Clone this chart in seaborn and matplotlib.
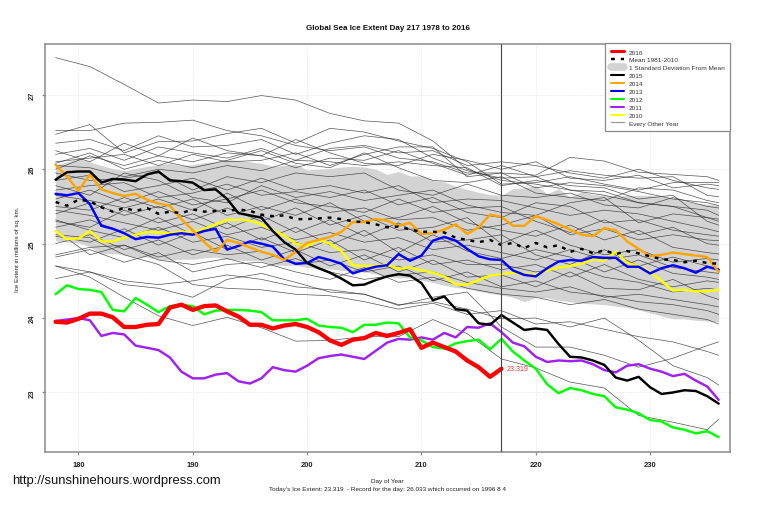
import matplotlib
matplotlib.use("Agg")
import matplotlib.pyplot as plt
from matplotlib.lines import Line2D
import numpy as np
import pandas as pd
import seaborn as sns

days = list(range(178, 237))
days_2016 = list(range(178, 218))
grid = [178,181,184,187,190,193,196,199,202,205,208,211,214,217,220,223,226,229,232,235,236]
x_ticks = [180,190,200,210,220,230]
y_ticks = [23,24,25,26,27]

v2016 = [23.95,23.94,23.99,24.06,24.06,24.01,23.88,23.88,23.91,23.92,24.14,24.18,24.11,24.16,24.17,24.09,24.02,23.91,23.91,23.86,
         23.90,23.92,23.88,23.81,23.70,23.64,23.71,23.73,23.80,23.76,23.80,23.85,23.60,23.67,23.61,23.55,23.43,23.34,23.21,23.319]
v2015 = [25.86,25.96,25.97,25.97,25.82,25.87,25.86,25.84,25.93,25.97,25.85,25.84,25.82,25.72,25.73,25.60,25.41,25.38,25.35,25.17,
         25.02,24.92,24.74,24.67,24.61,24.53,24.44,24.45,24.51,24.56,24.59,24.57,24.47,24.24,24.29,24.12,24.10,23.93,23.91,24.04,
         23.94,23.84,23.86,23.84,23.65,23.48,23.47,23.43,23.37,23.20,23.16,23.21,23.07,22.98,23.00,23.03,23.02,22.95,22.85]
v2014 = [26.06,25.90,25.71,25.93,25.73,25.68,25.64,25.67,25.59,25.54,25.51,25.33,25.18,25.02,24.89,25.05,25.01,24.95,24.89,24.85,
         24.78,24.89,25.01,25.05,25.09,25.16,25.29,25.29,25.33,25.31,25.24,25.28,25.13,25.14,25.19,25.26,25.13,25.22,25.39,25.36,
         25.24,25.24,25.37,25.32,25.26,25.19,25.12,25.10,25.21,25.18,25.03,24.93,24.83,24.85,24.88,24.86,24.84,24.82,24.62]
v2013 = [25.67,25.65,25.68,25.53,25.24,25.20,25.14,25.06,25.09,25.08,25.12,25.14,25.12,25.17,25.20,24.92,24.97,25.03,25.00,24.96,
         24.79,24.73,24.74,24.82,24.78,24.73,24.60,24.65,24.69,24.71,24.86,24.77,24.84,25.04,25.09,25.04,24.93,24.83,24.79,24.78,
         24.64,24.58,24.56,24.67,24.76,24.78,24.77,24.82,24.81,24.81,24.69,24.69,24.60,24.67,24.71,24.67,24.61,24.69,24.65]
v2012 = [24.32,24.44,24.39,24.38,24.35,24.11,24.09,24.27,24.18,24.08,24.16,24.18,24.16,24.05,24.10,24.11,24.11,24.10,24.08,23.97,
         23.97,23.97,23.99,23.90,23.88,23.87,23.81,23.91,23.91,23.94,23.93,23.74,23.70,23.61,23.59,23.66,23.69,23.71,23.58,23.72,
         23.55,23.43,23.32,23.11,22.99,23.06,23.03,22.98,22.95,22.80,22.77,22.72,22.63,22.61,22.53,22.50,22.45,22.48,22.40]
v2011 = [23.96,23.98,24.00,23.97,23.76,23.80,23.78,23.63,23.60,23.57,23.47,23.28,23.19,23.19,23.24,23.26,23.15,23.12,23.19,23.34,
         23.30,23.28,23.36,23.46,23.49,23.51,23.48,23.45,23.56,23.67,23.72,23.71,23.74,23.71,23.80,23.74,23.88,23.87,23.93,23.81,
         23.67,23.62,23.48,23.41,23.43,23.42,23.43,23.38,23.30,23.27,23.36,23.38,23.32,23.28,23.22,23.25,23.16,23.08,22.90]
v2010 = [25.17,25.06,25.07,25.17,25.03,25.03,25.08,25.12,25.16,25.15,25.14,25.16,25.15,25.20,25.26,25.32,25.32,25.31,25.26,25.18,
         25.11,25.00,24.97,25.05,25.00,24.90,24.71,24.70,24.70,24.72,24.66,24.68,24.64,24.61,24.56,24.45,24.45,24.51,24.57,24.59,
         24.61,24.59,24.58,24.64,24.68,24.70,24.73,24.79,24.77,24.89,24.74,24.70,24.62,24.50,24.37,24.38,24.36,24.36,24.38]
v_mean = [25.56,25.51,25.59,25.57,25.49,25.43,25.48,25.44,25.48,25.40,25.43,25.41,25.46,25.43,25.44,25.44,25.46,25.44,25.39,25.37,
          25.38,25.33,25.33,25.34,25.35,25.33,25.30,25.29,25.26,25.22,25.23,25.19,25.16,25.16,25.15,25.08,25.05,25.02,25.05,24.98,
          25.01,24.94,25.01,24.95,24.98,24.89,24.93,24.87,24.91,24.86,24.90,24.87,24.83,24.79,24.78,24.75,24.77,24.74,24.73]
band_hi = [26.06,26.10,26.14,26.10,26.05,26.01,25.98,26.01,26.04,26.06,26.08,26.05,26.06,26.09,26.10,26.13,26.12,26.10,26.08,26.04,
           26.05,26.07,25.99,26.00,26.01,26.03,26.04,26.03,26.00,25.93,25.97,25.91,25.91,25.85,25.83,25.77,25.73,25.69,25.66,25.65,
           25.74,25.75,25.78,25.67,25.74,25.63,25.70,25.66,25.65,25.63,25.65,25.65,25.65,25.63,25.61,25.57,25.54,25.53,25.52]
band_lo = [25.04,25.02,25.01,24.96,24.86,24.87,24.85,24.82,24.82,24.79,24.78,24.79,24.79,24.81,24.82,24.79,24.78,24.77,24.77,24.71,
           24.71,24.71,24.68,24.67,24.66,24.64,24.63,24.62,24.59,24.56,24.54,24.54,24.51,24.48,24.44,24.41,24.40,24.36,24.33,24.31,
           24.28,24.22,24.28,24.27,24.24,24.22,24.20,24.19,24.18,24.16,24.14,24.11,24.07,24.03,23.99,23.99,23.97,23.96,23.95]

thin_1 = [27.50,27.38,27.14,26.89,26.93,26.91,26.99,26.93,26.75,26.65,26.62,26.38,26.00,25.85,25.80,25.72,25.65,25.55,25.50,25.35,25.30]
thin_2 = [26.52,26.52,26.62,26.63,26.66,26.52,26.45,26.32,26.25,26.30,26.15,26.10,25.95,25.95,25.92,26.16,26.11,25.96,25.93,25.90,25.85]
thin_3 = [26.47,26.60,26.22,26.37,26.38,26.48,26.55,26.35,26.55,26.50,26.38,26.28,26.10,25.80,25.82,25.90,25.80,25.72,25.82,25.82,25.82]
thin_4 = [26.35,26.40,26.25,26.45,26.30,26.32,26.40,26.20,26.35,26.45,26.40,26.15,25.98,25.88,25.90,25.98,25.92,25.88,25.90,25.65,25.63]
thin_5 = [26.20,26.28,26.12,26.30,26.22,26.15,26.28,26.12,26.28,26.32,26.22,26.25,26.05,26.10,26.05,25.95,25.88,26.00,25.85,25.75,25.73]
thin_6 = [26.10,26.15,26.20,26.05,26.20,26.10,26.12,26.22,26.05,26.20,26.30,26.30,25.90,25.95,25.75,25.82,25.78,25.70,25.60,25.55,25.51]
thin_7 = [26.00,26.18,26.05,26.18,26.10,26.22,26.18,26.02,26.15,26.12,26.25,26.08,25.92,26.05,25.90,25.72,25.70,25.55,25.50,25.45,25.38]
thin_8 = [26.05,26.02,25.90,26.00,25.95,26.05,25.98,26.12,26.10,26.05,26.10,26.05,26.02,25.78,25.85,25.78,25.75,25.60,25.65,25.30,25.25]
thin_9 = [25.95,25.85,25.88,25.95,25.72,25.90,25.82,25.95,25.90,25.95,25.72,25.65,25.80,25.65,25.62,25.68,25.52,25.48,25.62,25.50,25.48]
thin_10 = [25.85,25.92,25.70,25.78,25.88,25.72,25.88,25.72,25.78,25.68,25.78,25.55,25.60,25.58,25.48,25.38,25.45,25.40,25.30,25.20,25.16]
thin_11 = [25.72,25.78,25.82,25.62,25.68,25.80,25.65,25.70,25.62,25.72,25.52,25.62,25.42,25.35,25.55,25.50,25.28,25.32,25.18,25.12,25.10]
thin_12 = [25.60,25.72,25.55,25.70,25.52,25.60,25.72,25.55,25.50,25.42,25.60,25.42,25.48,25.50,25.30,25.15,25.32,25.12,25.22,25.00,24.98]
thin_13 = [25.50,25.45,25.62,25.48,25.60,25.38,25.50,25.38,25.55,25.30,25.35,25.50,25.28,25.18,25.10,25.25,25.05,25.18,24.95,24.88,24.86]
thin_14 = [25.40,25.55,25.38,25.50,25.32,25.48,25.30,25.48,25.25,25.38,25.18,25.22,25.35,25.00,25.18,24.98,24.85,24.92,24.75,24.80,24.78]
thin_15 = [25.30,25.22,25.45,25.28,25.40,25.20,25.38,25.15,25.32,25.10,25.28,25.02,25.05,25.12,24.85,24.72,24.92,24.70,24.82,24.70,24.66]
thin_16 = [25.22,25.32,25.15,25.35,25.12,25.28,25.05,25.22,24.98,25.18,24.88,25.12,24.90,24.80,24.92,24.82,24.62,24.78,24.60,24.55,24.52]
thin_17 = [25.10,25.02,25.20,24.98,25.15,24.92,25.08,24.88,25.05,24.78,24.95,24.72,24.78,24.65,24.72,24.55,24.72,24.52,24.42,24.50,24.48]
thin_18 = [25.00,25.12,24.92,25.05,24.85,24.98,24.78,24.92,24.70,24.85,24.62,24.78,24.55,24.58,24.42,24.62,24.40,24.38,24.52,24.30,24.25]
thin_19 = [24.85,24.95,24.98,24.82,24.92,24.85,24.90,24.72,24.78,24.62,24.70,24.50,24.62,24.42,24.50,24.35,24.30,24.22,24.18,24.10,24.05]
thin_20 = [24.82,24.92,24.75,24.88,24.62,24.72,24.75,24.62,24.52,24.68,24.48,24.55,24.40,24.32,24.28,24.18,24.25,24.12,24.05,23.98,23.92]
thin_21 = [24.70,24.62,24.45,24.40,24.28,24.52,24.60,24.48,24.35,24.32,24.18,24.22,24.12,23.99,24.00,23.88,24.00,23.70,23.36,23.20,23.10]
thin_22 = [24.53,24.62,24.50,24.45,24.50,24.58,24.52,24.42,24.38,24.32,24.17,24.28,24.35,23.88,23.61,23.61,23.50,23.34,23.46,23.63,23.68]
thin_23 = [24.70,24.55,24.28,24.03,23.90,24.01,23.87,23.69,23.70,23.75,23.75,23.98,23.79,23.45,23.33,23.14,23.06,22.69,22.60,22.50,22.64]
thin_24 = [25.12,25.08,24.85,24.72,24.45,24.40,24.38,24.32,24.30,24.22,24.12,24.20,24.05,24.10,23.92,23.95,23.85,23.75,23.68,23.55,23.50]
thin_25 = [26.25,26.10,26.35,26.18,26.42,26.25,26.18,26.40,26.22,26.08,26.05,26.20,26.12,26.00,26.10,25.88,25.85,25.92,25.75,25.80,25.78]
thin_26 = [26.08,26.22,26.00,26.12,26.02,26.12,26.25,26.08,26.02,26.22,26.02,25.85,25.82,25.90,25.68,25.62,25.58,25.75,25.72,25.58,25.55]
thin_27 = [25.78,25.65,25.95,25.85,25.62,25.55,25.78,25.62,25.70,25.58,25.65,25.72,25.52,25.42,25.38,25.55,25.62,25.28,25.40,25.35,25.33]
thin_28 = [25.65,25.58,25.48,25.60,25.45,25.68,25.45,25.60,25.42,25.48,25.32,25.35,25.18,25.25,25.38,25.12,25.20,25.05,25.12,25.05,25.04]
thin_29 = [25.45,25.38,25.28,25.18,25.30,25.12,25.22,25.05,25.15,25.02,25.08,24.92,24.98,24.88,24.78,24.92,24.78,24.85,24.68,24.62,24.60]
thin_30 = [25.32,25.18,25.08,25.22,25.02,25.10,24.95,25.02,24.88,24.92,24.78,24.85,24.72,24.72,24.62,24.70,24.55,24.48,24.35,24.40,24.38]
thin_31 = [25.18,24.85,24.98,24.78,24.72,24.80,24.68,24.80,24.62,24.52,24.58,24.62,24.48,24.40,24.35,24.42,24.28,24.32,24.25,24.18,24.15]
thin_lines = [thin_1,thin_2,thin_3,thin_4,thin_5,thin_6,thin_7,thin_8,thin_9,thin_10,thin_11,thin_12,
              thin_13,thin_14,thin_15,thin_16,thin_17,thin_18,thin_19,thin_20,thin_21,thin_22,thin_23,thin_24,
              thin_25,thin_26,thin_27,thin_28,thin_29,thin_30,thin_31]

sns.set_theme(style="white")
plt.rcParams["font.family"] = ["Liberation Sans", "DejaVu Sans"]
W, H = 759, 506
fig = plt.figure(figsize=(W/100, H/100), dpi=100)
ax = fig.add_axes([44.5/W, 1-453/H, 685.5/W, 408.5/H])

GREY = "#8a8a8a"
ax.fill_between(days, band_lo, band_hi, color="#d3d3d3", lw=0, zorder=1)
for t in thin_lines:
    sns.lineplot(x=grid, y=t, ax=ax, color="#2a2a2a", lw=0.5, alpha=0.8, estimator=None, zorder=2)
sns.lineplot(x=days, y=v2010, ax=ax, color="#ffff00", lw=1.75, estimator=None, zorder=3)
sns.lineplot(x=days, y=v2011, ax=ax, color="#a020f0", lw=1.75, estimator=None, zorder=3)
sns.lineplot(x=days, y=v2012, ax=ax, color="#00ff00", lw=1.75, estimator=None, zorder=3)
sns.lineplot(x=days, y=v2013, ax=ax, color="#0000ff", lw=1.75, estimator=None, zorder=3)
sns.lineplot(x=days, y=v2014, ax=ax, color="#ffa500", lw=1.75, estimator=None, zorder=3)
sns.lineplot(x=days, y=v2015, ax=ax, color="#000000", lw=1.75, estimator=None, zorder=3)
sns.lineplot(x=days, y=v_mean, ax=ax, color="#000000", lw=1.75, dashes=(1.6, 2.4), estimator=None, zorder=3)
sns.lineplot(x=days_2016, y=v2016, ax=ax, color="#ff0000", lw=3.1, estimator=None, zorder=4)
ax.axvline(217, color="#444444", lw=0.8, zorder=5)
ax.text(217.45, v2016[-1], "23.319", color="#ff3030", fontsize=5.0, va="center", ha="left", zorder=6)

ax.set_xlim(177.03, 236.99)
ax.set_ylim(22.2, 27.69)
ax.set_xticks(x_ticks)
ax.set_yticks(y_ticks)
ax.set_xticklabels([str(v) for v in x_ticks], fontsize=5.4, fontweight="bold", color="#222222")
ax.set_yticklabels([str(v) for v in y_ticks], fontsize=5.4, fontweight="bold", color="#222222", rotation=90, va="center")
ax.tick_params(axis="both", length=2.5, width=0.9, color=GREY, pad=4, bottom=True, left=True)
ax.grid(True, color="#e6e6e6", lw=0.6, ls=(0, (1.5, 1.5)), zorder=0)
ax.set_axisbelow(True)
for s in ax.spines.values():
    s.set_color(GREY)
    s.set_linewidth(1.1)
ax.set_xlabel("")
ax.set_ylabel("")

fig.text(388/W, 1-29/H, "Global Sea Ice Extent Day 217 1978 to 2016", fontsize=5.75, fontweight="bold", ha="center", va="center", color="#111111")
fig.text(18/W, 1-249/H, "Ice Extent in millions of sq. km.", fontsize=4.5, rotation=90, ha="center", va="center", color="#222222")
fig.text(387/W, 1-482/H, "Day of Year", fontsize=4.63, ha="center", va="center", color="#222222")
fig.text(387/W, 1-489.5/H, "Today's Ice Extent: 23.319  - Record for the day: 26.033 which occurred on 1996 8 4", fontsize=4.63, ha="center", va="center", color="#222222")
fig.text(12/W, 1-481/H, "http://sunshinehours.wordpress.com", fontsize=9.4, ha="left", va="center", color="#111111")

handles = [
    Line2D([], [], color="#ff0000", lw=2.2),
    Line2D([], [], color="#000000", lw=1.75, dashes=(1.6, 2.4)),
    Line2D([], [], color="#d3d3d3", lw=5.5, solid_capstyle="round"),
    Line2D([], [], color="#000000", lw=1.5),
    Line2D([], [], color="#ffa500", lw=1.5),
    Line2D([], [], color="#0000ff", lw=1.5),
    Line2D([], [], color="#00ff00", lw=1.5),
    Line2D([], [], color="#a020f0", lw=1.5),
    Line2D([], [], color="#ffff00", lw=1.5),
    Line2D([], [], color="#9a9a9a", lw=0.9),
]
labels = ["2016", "Mean 1981-2010", "1 Standard Deviation From Mean", "2015", "2014", "2013", "2012", "2011", "2010", "Every Other Year"]
leg = ax.legend(handles, labels, loc="upper right", bbox_to_anchor=(1.0, 1.0), borderaxespad=0, fontsize=4.65,
                frameon=True, fancybox=False, framealpha=1, edgecolor=GREY, handlelength=2.0, handletextpad=0.8,
                labelspacing=0.37, borderpad=0.85, labelcolor="#333333")
leg.get_frame().set_linewidth(0.9)
leg.set_zorder(10)

fig.savefig("out.png", dpi=100)
